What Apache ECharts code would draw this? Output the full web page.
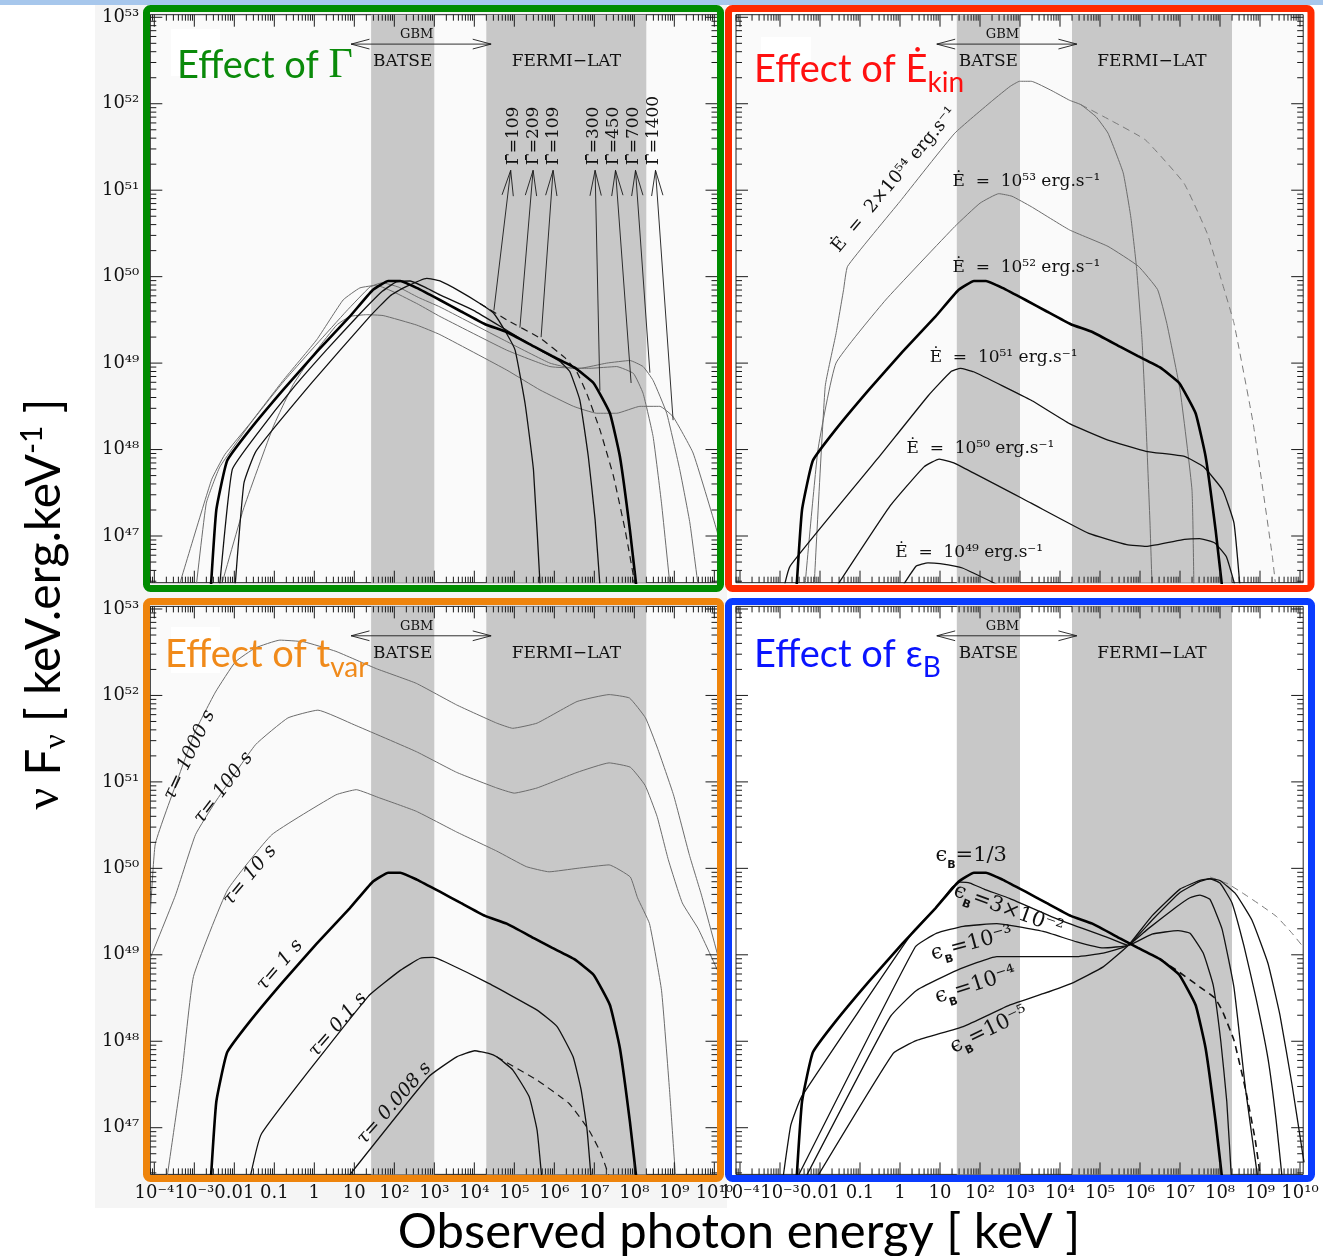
<!DOCTYPE html>
<html><head><meta charset="utf-8">
<script src="https://cdn.jsdelivr.net/npm/echarts@6/dist/echarts.min.js"></script>
<style>html,body{margin:0;padding:0;background:#fff;overflow:hidden}#c{width:1323px;height:1256px}</style>
</head><body><div id="c"></div>
<script>
// ---------- axis ranges (log10 units) ----------
const XMIN = -4.1, XMAX = 10.08;     // log10(E / keV)
const YMIN = 46.46, YMAX = 53.03;    // log10(nu F_nu)
const X_TICK_LABELS = {'-4':'10⁻⁴','-3':'10⁻³','-2':'0.01','-1':'0.1','0':'1','1':'10','2':'10²','3':'10³','4':'10⁴','5':'10⁵','6':'10⁶','7':'10⁷','8':'10⁸','9':'10⁹','10':'10¹⁰'};
const Y_TICK_LABELS = {'47':'10⁴⁷','48':'10⁴⁸','49':'10⁴⁹','50':'10⁵⁰','51':'10⁵¹','52':'10⁵²','53':'10⁵³'};
const BANDS = [[1.42, 3.0], [4.3, 8.3]];   // BATSE, FERMI-LAT
const GBM_RANGE = [0.92, 4.42];

// ---------- curves: [log10 E(keV), log10 nuFnu] ----------
const REF = [[-2.6,46.3],[-2.45,47.3],[-2.18,47.87],[-1.61,48.23],[-0.78,48.69],[0.06,49.13],[0.89,49.54],[1.45,49.84],[1.85,49.95],[2.15,49.95],[2.56,49.87],[3.14,49.73],[3.66,49.6],[4.27,49.45],[4.81,49.36],[5.5,49.19],[5.95,49.08],[6.5,48.95],[6.98,48.77],[7.39,48.42],[7.64,47.92],[7.89,47.07],[8.08,46.3]];
// Effect of Gamma
const G109 = [[-2.0,46.3],[-1.76,47.61],[-1.46,47.98],[-0.05,48.78],[1.39,49.54],[1.9,49.78],[2.23,49.87],[2.81,49.98],[3.14,49.95],[3.64,49.83],[4.14,49.69],[4.48,49.58],[4.81,49.34],[5.02,49.15],[5.27,48.53],[5.48,47.76],[5.66,46.3]];
const G109_DASH = [[4.14,49.69],[4.81,49.5],[5.64,49.29],[6.27,49.06],[6.56,48.9],[6.81,48.65],[7.14,48.23],[7.48,47.69],[7.77,47.07],[7.98,46.53],[8.03,46.3]];
const G209 = [[-2.39,46.3],[-2.05,47.77],[-1.4,48.2],[-0.55,48.7],[0.3,49.15],[1.1,49.55],[1.7,49.83],[2.05,49.94],[2.4,49.95],[2.8,49.87],[3.14,49.79],[3.98,49.61],[4.81,49.38],[5.64,49.15],[6.14,49.02],[6.39,48.9],[6.64,48.57],[6.85,47.92],[7.02,47.19],[7.16,46.3]];
const G450 = [[-2.98,46.3],[-2.7,47.38],[-2.36,47.8],[-1.6,48.3],[-0.78,48.78],[0.06,49.22],[0.8,49.6],[1.39,49.88],[1.7,49.93],[2.1,49.88],[2.6,49.76],[3.14,49.65],[4.81,49.25],[5.89,49.0],[6.48,48.94],[6.89,48.94],[7.56,48.96],[7.98,48.88],[8.22,48.65],[8.47,48.15],[8.68,47.38],[8.92,46.3]];
const G700 = [[-3.46,46.3],[-2.57,47.65],[-2.24,47.94],[-1.61,48.3],[-0.78,48.8],[0.06,49.27],[0.72,49.73],[1.14,49.87],[1.56,49.9],[2.0,49.82],[2.6,49.68],[3.14,49.54],[4.81,49.15],[5.89,48.96],[6.64,48.94],[7.31,49.0],[7.89,49.03],[8.22,48.96],[8.47,48.8],[8.81,48.42],[9.14,47.76],[9.39,47.15],[9.63,46.3]];
const G1400 = [[-2.4,46.3],[-1.78,47.3],[-1.03,48.26],[-0.53,48.75],[0.06,49.15],[0.56,49.44],[0.89,49.54],[1.31,49.56],[1.72,49.55],[2.56,49.44],[3.14,49.33],[4.81,48.92],[5.64,48.69],[6.48,48.5],[7.06,48.42],[7.56,48.42],[8.14,48.5],[8.64,48.5],[8.97,48.38],[9.47,47.96],[10.06,47.07],[10.2,46.8]];
// Effect of E_kin
const E2E54 = [[-2.16,46.3],[-1.87,48.73],[-1.6,49.34],[-1.41,49.85],[-1.31,50.12],[0.0,50.87],[1.37,51.66],[2.32,52.04],[2.75,52.2],[2.99,52.26],[3.28,52.26],[3.8,52.15],[4.24,52.04],[4.52,51.99],[4.9,51.85],[5.2,51.66],[5.58,51.2],[5.77,50.69],[5.91,50.12],[6.05,49.27],[6.15,48.3],[6.25,47.15],[6.31,46.3]];
const E2E54_DASH = [[4.52,51.99],[5.3,51.8],[6.14,51.58],[7.1,51.08],[7.68,50.5],[8.06,49.92],[8.35,49.46],[8.83,48.3],[9.31,46.76],[9.42,46.3]];
const E1E53 = [[-2.4,46.3],[-2.05,48.0],[-1.6,49.0],[-0.36,49.73],[1.37,50.58],[2.0,50.85],[2.47,50.96],[2.8,50.93],[3.28,50.81],[4.24,50.54],[5.2,50.35],[5.96,50.12],[6.44,49.85],[6.67,49.46],[7.0,48.69],[7.3,47.53],[7.35,46.3]];
const E1E51 = [[-2.95,46.3],[-2.75,46.65],[-0.55,47.9],[0.7,48.62],[1.27,48.9],[1.51,48.94],[1.84,48.9],[3.28,48.57],[4.24,48.3],[5.2,48.11],[6.15,47.98],[7.11,47.92],[7.59,47.8],[8.07,47.53],[8.35,47.15],[8.52,46.3]];
const E1E50 = [[-1.75,46.3],[-0.26,47.34],[0.6,47.8],[0.98,47.89],[1.37,47.84],[3.28,47.38],[4.72,47.03],[5.67,46.9],[6.15,46.88],[7.11,46.96],[7.49,46.97],[7.87,46.92],[8.16,46.76],[8.45,46.3]];
const E1E49 = [[-0.1,46.3],[0.4,46.65],[0.7,46.69],[1.0,46.68],[1.56,46.63],[2.6,46.4]];
// Effect of t_var
const T1000 = [[-4.2,48.6],[-3.98,50.27],[-3.47,50.96],[-2.98,51.58],[-2.47,52.04],[-1.97,52.39],[-1.47,52.55],[-0.86,52.64],[-0.26,52.62],[0.54,52.51],[1.55,52.31],[2.55,52.14],[3.56,51.89],[4.56,51.68],[4.96,51.62],[5.57,51.68],[6.57,51.93],[7.37,52.01],[7.88,51.97],[8.28,51.74],[8.58,51.39],[8.98,50.85],[9.38,50.15],[9.68,49.69],[10.2,48.8]];
const T100 = [[-4.2,48.85],[-3.47,49.69],[-2.97,50.39],[-2.47,50.77],[-1.47,51.43],[-0.66,51.74],[0.09,51.83],[1.0,51.66],[2.55,51.35],[3.56,51.11],[4.56,50.93],[5.0,50.87],[5.57,50.93],[6.57,51.11],[7.37,51.22],[7.9,51.17],[8.27,50.96],[8.57,50.6],[8.85,50.1],[9.2,49.6],[9.6,49.3],[10.2,48.7]];
const T10 = [[-3.72,46.3],[-3.32,47.59],[-3.02,48.75],[-2.17,49.75],[-1.06,50.39],[0.54,50.85],[1.05,50.91],[1.6,50.82],[2.55,50.66],[3.56,50.42],[4.56,50.2],[5.3,50.02],[5.87,49.96],[6.57,50.0],[7.37,50.04],[7.9,49.9],[8.08,49.66],[8.38,49.36],[8.68,48.59],[8.88,47.44],[9.05,46.3]];
const T01 = [[-1.66,46.3],[-1.32,46.93],[1.35,48.52],[2.15,48.82],[2.65,48.96],[2.96,48.97],[3.26,48.92],[4.36,48.67],[5.57,48.36],[6.07,48.17],[6.47,47.82],[6.67,47.44],[6.82,46.97],[6.94,46.3]];
const T0008 = [[0.62,46.3],[2.86,47.59],[3.56,47.82],[4.01,47.89],[4.36,47.86],[4.56,47.82],[4.96,47.67],[5.37,47.36],[5.57,46.97],[5.71,46.3]];
const T0008_DASH = [[4.56,47.82],[5.57,47.55],[6.37,47.28],[6.87,46.97],[7.17,46.7],[7.47,46.3]];
// Effect of eps_B
const EB3E2 = [[-2.96,46.3],[-2.73,47.03],[-2.46,47.36],[0.33,49.27],[0.89,49.54],[1.3,49.78],[1.5,49.84],[1.75,49.83],[2.1,49.76],[2.75,49.65],[4.0,49.4],[5.25,49.19],[5.71,49.11],[6.3,49.24],[6.95,49.28],[7.25,49.25],[7.58,49.02],[7.83,48.65],[8.02,48.0],[8.17,47.3],[8.3,46.3]];
const EB1E3 = [[-2.7,46.3],[0.38,49.09],[0.92,49.25],[1.58,49.33],[2.42,49.36],[2.75,49.34],[3.58,49.27],[4.42,49.15],[5.08,49.08],[5.71,49.11],[6.2,49.3],[6.9,49.55],[7.25,49.66],[7.5,49.69],[7.75,49.64],[8.05,49.3],[8.35,48.62],[8.64,47.44],[8.98,46.3]];
const EB1E4 = [[-2.5,46.3],[-0.25,48.28],[0.42,48.59],[1.42,48.82],[2.42,48.98],[3.25,48.98],[4.42,48.98],[5.08,49.02],[5.71,49.11],[6.3,49.4],[7.0,49.72],[7.5,49.85],[7.75,49.88],[8.0,49.83],[8.3,49.6],[8.6,49.1],[8.9,48.5],[9.2,47.8],[9.4,47.1],[9.58,46.3]];
const EB1E5 = [[-2.24,46.3],[-0.17,47.86],[0.42,48.01],[1.58,48.17],[2.75,48.42],[3.58,48.55],[4.29,48.67],[5.08,48.86],[5.71,49.11],[6.3,49.45],[7.0,49.76],[7.5,49.86],[7.75,49.88],[8.0,49.86],[8.4,49.7],[8.8,49.4],[9.2,48.9],[9.5,48.3],[9.8,47.5],[10.1,46.6]];
const EB1E5_DASH = [[7.75,49.9],[8.2,49.82],[8.58,49.71],[9.0,49.58],[9.42,49.44],[9.8,49.25],[10.1,49.08]];
const REF_DASH = [[6.5,48.95],[6.92,48.82],[7.49,48.63],[7.87,48.5],[8.06,48.35],[8.35,48.01],[8.64,47.44],[8.88,46.86],[9.05,46.3]];

// ---------- annotation text ----------
const GAMMA_VALUES = ['109','209','109','300','450','700','1400'];
const EDOT_TEXT = ['2×10⁵⁴','10⁵³','10⁵²','10⁵¹','10⁵⁰','10⁴⁹'];
const TAU_TEXT = ['1000','100','10','1','0.1','0.008'];
const EPS_TEXT = ['1/3','3×10⁻²','10⁻³','10⁻⁴','10⁻⁵'];

// ---------- layout / styles ----------
const SERIF = '"DejaVu Serif", serif';
const GRIDS = [
  {left:150.3, top:14.7, width:567.2, height:568, bg:'#fafafa', xlab:false},
  {left:736,   top:14.7, width:567.2, height:568, bg:'#fafafa', xlab:false},
  {left:150.3, top:606.4, width:567.2, height:568, bg:'#fafafa', xlab:true},
  {left:736,   top:606.4, width:567.2, height:568, bg:'#ffffff', xlab:true}
];
const STY = {
  thick:{color:'#000', width:2.6, type:'solid'},
  thin:{color:'#111', width:1.3, type:'solid'},
  gray:{color:'#6c6c6c', width:1, type:'solid'},
  dash:{color:'#1a1a1a', width:1.2, type:[7,5]},
  dashB:{color:'#111', width:1.6, type:[7,5]},
  dashGray:{color:'#7a7a7a', width:1, type:[7,5]}
};
const commonLabels = [
  {t:'GBM', at:[2.56,52.80], size:13},
  {t:'BATSE', at:[2.21,52.49], size:17},
  {t:'FERMI−LAT', at:[6.3,52.49], size:17}
];
const gbmArrow = {from:[GBM_RANGE[0],52.69], to:[GBM_RANGE[1],52.69], both:true, head:19, ang:0.26};
const gammaAt = [4.97,5.47,5.97,6.97,7.47,7.98,8.49];
const PANELS = [
  { curves:[[G1400,'gray'],[G700,'gray'],[G450,'gray'],[G109_DASH,'dash'],[G109,'thin'],[G209,'thin'],[REF,'thick']],
    labels: commonLabels.concat(GAMMA_VALUES.map((g,i)=>({t:'Γ\u0304=' + g, at:[gammaAt[i],51.29], rot:90, size:17, align:'left'}))),
    arrows: [gbmArrow,
      {from:[4.49,49.61], to:[4.91,51.23]}, {from:[5.14,49.41], to:[5.47,51.23]}, {from:[5.67,49.30], to:[5.97,51.23]},
      {from:[7.14,48.68], to:[7.02,51.23]}, {from:[7.92,48.77], to:[7.53,51.23]}, {from:[8.39,48.89], to:[8.03,51.23]},
      {from:[8.97,48.34], to:[8.53,51.23]}] },
  { curves:[[E2E54_DASH,'dashGray'],[E2E54,'gray'],[E1E53,'gray'],[E1E51,'thin'],[E1E50,'thin'],[E1E49,'thin'],[REF,'thick']],
    labels: commonLabels.concat([
      {t:'Ė  =  ' + EDOT_TEXT[0] + ' erg.s⁻¹', at:[-0.14,51.12], rot:50, size:18},
      {t:'Ė  =  ' + EDOT_TEXT[1] + ' erg.s⁻¹', at:[3.16,51.10], size:17},
      {t:'Ė  =  ' + EDOT_TEXT[2] + ' erg.s⁻¹', at:[3.16,50.10], size:17},
      {t:'Ė  =  ' + EDOT_TEXT[3] + ' erg.s⁻¹', at:[2.59,49.06], size:17},
      {t:'Ė  =  ' + EDOT_TEXT[4] + ' erg.s⁻¹', at:[2.01,48.01], size:17},
      {t:'Ė  =  ' + EDOT_TEXT[5] + ' erg.s⁻¹', at:[1.73,46.81], size:17}]),
    arrows:[gbmArrow] },
  { curves:[[T1000,'gray'],[T100,'gray'],[T10,'gray'],[T0008_DASH,'dash'],[T01,'thin'],[T0008,'thin'],[REF,'thick']],
    labels: commonLabels.concat([
      {t:'τ= ' + TAU_TEXT[0] + ' s', at:[-3.12,51.31], rot:64.7, size:19, italic:true},
      {t:'τ= ' + TAU_TEXT[1] + ' s', at:[-2.27,50.93], rot:52.6, size:19, italic:true},
      {t:'τ= ' + TAU_TEXT[2] + ' s', at:[-1.61,49.92], rot:50, size:19, italic:true},
      {t:'τ= ' + TAU_TEXT[3] + ' s', at:[-0.86,48.88], rot:49.6, size:19, italic:true},
      {t:'τ= ' + TAU_TEXT[4] + ' s', at:[0.59,48.19], rot:49, size:19, italic:true},
      {t:'τ= ' + TAU_TEXT[5] + ' s', at:[2.0,47.28], rot:48.7, size:19, italic:true}]),
    arrows:[gbmArrow] },
  { curves:[[EB1E5_DASH,'dashGray'],[REF_DASH,'dashB'],[EB3E2,'thin'],[EB1E3,'thin'],[EB1E4,'thin'],[EB1E5,'thin'],[REF,'thick']],
    labels: commonLabels.concat([
      {eps:EPS_TEXT[0], at:[1.78,50.15], rot:0},
      {eps:EPS_TEXT[1], at:[2.71,49.52], rot:-20},
      {eps:EPS_TEXT[2], at:[1.8,49.13], rot:15},
      {eps:EPS_TEXT[3], at:[1.89,48.65], rot:17.8},
      {eps:EPS_TEXT[4], at:[2.23,48.13], rot:25.8}]),
    arrows:[gbmArrow] }
];

const P10 = v => Math.pow(10, v);
const toPts = a => a.map(p => [P10(p[0]), P10(p[1])]);

function overlayData(panel, withXLabels) {
  const items = [];
  for (let n = Math.floor(XMIN); n <= Math.ceil(XMAX); n++) for (let k = 1; k <= 9; k++) {
    const e = n + Math.log10(k);
    if (e < XMIN || e > XMAX) continue;
    items.push([P10(e), P10(YMIN), P10(e), P10(YMIN), k === 1 ? 1 : 0, 0]);
  }
  for (let n = Math.floor(YMIN); n <= Math.ceil(YMAX); n++) for (let k = 1; k <= 9; k++) {
    const e = n + Math.log10(k);
    if (e < YMIN || e > YMAX) continue;
    items.push([P10(XMIN), P10(e), P10(XMIN), P10(e), k === 1 ? 3 : 2, 0]);
  }
  if (withXLabels) {
    Object.keys(X_TICK_LABELS).forEach(k => {
      const n = Number(k);
      items.push([P10(n), P10(YMIN), P10(n), P10(YMIN), 7, n]);
    });
  }
  panel.arrows.forEach((a, i) => items.push([P10(a.from[0]), P10(a.from[1]), P10(a.to[0]), P10(a.to[1]), 4, i]));
  panel.labels.forEach((l, i) => items.push([P10(l.at[0]), P10(l.at[1]), P10(l.at[0]), P10(l.at[1]), 6, i]));
  return items;
}

function chevron(tip, from, len, ang) {
  const a = Math.atan2(from[1] - tip[1], from[0] - tip[0]);
  return [[tip[0] + len * Math.cos(a + ang), tip[1] + len * Math.sin(a + ang)], tip,
          [tip[0] + len * Math.cos(a - ang), tip[1] + len * Math.sin(a - ang)]];
}

function overlayRender(panel) {
  const yLo = P10(YMIN), yHi = P10(YMAX), xLo = P10(XMIN), xHi = P10(XMAX);
  const ink = '#1a1a1a';
  const ln = (x1, y1, x2, y2, w) => ({type:'line', shape:{x1, y1, x2, y2}, style:{stroke:ink, lineWidth:w || 1}});
  return function (params, api) {
    const kind = api.value(4);
    if (kind === 0 || kind === 1) {
      const x = api.value(0), b = api.coord([x, yLo]), t = api.coord([x, yHi]), L = kind ? 12 : 6;
      return {type:'group', children:[ln(b[0], b[1], b[0], b[1] - L), ln(t[0], t[1], t[0], t[1] + L)]};
    }
    if (kind === 2 || kind === 3) {
      const y = api.value(1), l = api.coord([xLo, y]), r = api.coord([xHi, y]), L = kind === 3 ? 12 : 6;
      return {type:'group', children:[ln(l[0], l[1], l[0] + L, l[1]), ln(r[0], r[1], r[0] - L, r[1])]};
    }
    if (kind === 4) {
      const a = panel.arrows[api.value(5)];
      const p1 = api.coord([api.value(0), api.value(1)]), p2 = api.coord([api.value(2), api.value(3)]);
      const len = a.head || 26, ang = a.ang || 0.22;
      const kids = [{type:'polyline', shape:{points:[p1, p2]}, style:{stroke:ink, lineWidth:0.9, fill:null}},
                    {type:'polyline', shape:{points:chevron(p2, p1, len, ang)}, style:{stroke:ink, lineWidth:0.9, fill:null}}];
      if (a.both) kids.push({type:'polyline', shape:{points:chevron(p1, p2, len, ang)}, style:{stroke:ink, lineWidth:0.9, fill:null}});
      return {type:'group', children:kids};
    }
    if (kind === 7) {
      const p = api.coord([api.value(0), api.value(1)]);
      return {type:'text', x:p[0], y:p[1] + 19, style:{text:X_TICK_LABELS[String(api.value(5))], font:'18px ' + SERIF, fill:'#111', align:'center', verticalAlign:'middle'}};
    }
    if (kind === 6) {
      const lab = panel.labels[api.value(5)];
      const p = api.coord([api.value(0), api.value(1)]);
      const style = {fill:'#111', align:lab.align || 'center', verticalAlign:'middle'};
      if (lab.eps) {
        style.text = '{e|ϵ}{b|B}{n|=' + lab.eps + '}';
        style.rich = {
          e:{fontFamily:SERIF, fontSize:21, lineHeight:30, fill:'#111'},
          b:{fontFamily:'"DejaVu Sans", sans-serif', fontSize:11, fontWeight:'bold', verticalAlign:'bottom', fill:'#111'},
          n:{fontFamily:SERIF, fontSize:21, lineHeight:30, fill:'#111'}
        };
      } else {
        style.text = lab.t;
        style.font = (lab.italic ? 'italic ' : '') + (lab.size || 17) + 'px ' + SERIF;
      }
      return {type:'text', x:p[0], y:p[1], rotation:(lab.rot || 0) * Math.PI / 180, style};
    }
    return null;
  };
}

const option = {
  animation:false,
  backgroundColor:'#ffffff',
  grid: GRIDS.map(g => ({left:g.left, top:g.top, width:g.width, height:g.height, show:true, backgroundColor:g.bg, borderColor:'#222', borderWidth:1})),
  xAxis: GRIDS.map((g, i) => ({
    type:'log', logBase:10, gridIndex:i, min:P10(XMIN), max:P10(XMAX),
    axisLine:{show:false}, axisTick:{show:false}, splitLine:{show:false}, minorTick:{show:false}, axisLabel:{show:false}
  })),
  yAxis: GRIDS.map((g, i) => ({
    type:'log', logBase:10, gridIndex:i, min:P10(YMIN), max:P10(YMAX), splitNumber:6,
    axisLine:{show:false}, axisTick:{show:false}, splitLine:{show:false}, minorTick:{show:false},
    axisLabel:{show:i % 2 === 0, margin:11, color:'#111', fontFamily:SERIF, fontSize:18,
      formatter: v => { const e = Math.log10(v), r = Math.round(e); return Math.abs(e - r) < 0.01 ? (Y_TICK_LABELS[String(r)] || '') : ''; }}
  })),
  series: [],
  graphic: {elements: [
    {type:'rect', z:-100, shape:{x:0, y:0, width:1323, height:5}, style:{fill:'#a7c7ec'}},
    {type:'rect', z:-100, shape:{x:95, y:5, width:632, height:1203}, style:{fill:'#f5f5f5'}},
    {type:'rect', z:100, shape:{x:146.5, y:8.5, width:574, height:580, r:4}, style:{fill:'none', stroke:'#008c00', lineWidth:7}},
    {type:'rect', z:100, shape:{x:728.5, y:8.5, width:582.5, height:580, r:4}, style:{fill:'none', stroke:'#ff2a00', lineWidth:7}},
    {type:'rect', z:100, shape:{x:146.5, y:601.5, width:574, height:577, r:4}, style:{fill:'none', stroke:'#ee840c', lineWidth:7}},
    {type:'rect', z:100, shape:{x:728.5, y:601.5, width:583, height:577, r:4}, style:{fill:'none', stroke:'#0a3cff', lineWidth:7}},
    {type:'rect', z:90, shape:{x:171, y:29, width:49, height:47}, style:{fill:'#ffffff'}},
    {type:'rect', z:90, shape:{x:761, y:37, width:50, height:45}, style:{fill:'#ffffff'}},
    {type:'rect', z:90, shape:{x:171, y:627, width:49, height:46}, style:{fill:'#ffffff'}},
    {type:'text', z:110, x:177, y:66, style:{text:'{a|Effect of }{g|Γ}', align:'left', verticalAlign:'middle',
      rich:{a:{fontFamily:'Lato', fontSize:38, lineHeight:46, fill:'#0a8a0a'}, g:{fontFamily:'"Liberation Serif", serif', fontSize:42, lineHeight:46, fill:'#0a8a0a'}}}},
    {type:'text', z:110, x:754, y:70, style:{text:'{a|Effect of Ė}{s|kin}', align:'left', verticalAlign:'middle',
      rich:{a:{fontFamily:'Lato', fontSize:38, lineHeight:54, fill:'#ff1010'}, s:{fontFamily:'Lato', fontSize:28, verticalAlign:'bottom', fill:'#ff1010'}}}},
    {type:'text', z:110, x:165, y:655, style:{text:'{a|Effect of t}{s|var}', align:'left', verticalAlign:'middle',
      rich:{a:{fontFamily:'Lato', fontSize:38, lineHeight:54, fill:'#f08a1a'}, s:{fontFamily:'Lato', fontSize:28, verticalAlign:'bottom', fill:'#f08a1a'}}}},
    {type:'text', z:110, x:754, y:655, style:{text:'{a|Effect of ε}{s|B}', align:'left', verticalAlign:'middle',
      rich:{a:{fontFamily:'Lato, "Noto Sans", sans-serif', fontSize:38, lineHeight:54, fill:'#0a14ff'}, s:{fontFamily:'Lato', fontSize:28, verticalAlign:'bottom', fill:'#0a14ff'}}}},
    {type:'text', z:110, x:45, y:604, rotation:Math.PI / 2, style:{text:'{n|ν }{m|F}{s|ν}{m| [ keV.erg.keV}{p|-1}{m| ]}', align:'center', verticalAlign:'middle',
      rich:{n:{fontFamily:'"Liberation Serif", serif', fontSize:48, lineHeight:56, fill:'#000'}, m:{fontFamily:'Lato', fontSize:48, lineHeight:56, fill:'#000'},
            s:{fontFamily:'"Liberation Serif", serif', fontSize:32, verticalAlign:'bottom', fill:'#000'}, p:{fontFamily:'Lato', fontSize:30, verticalAlign:'top', fill:'#000'}}}},
    {type:'text', z:110, x:739, y:1232, style:{text:'Observed photon energy [ keV ]', font:'49px Lato', fill:'#000', align:'center', verticalAlign:'middle'}}
  ]}
};

PANELS.forEach((panel, i) => {
  option.series.push({
    type:'custom', name:'bands' + i, xAxisIndex:i, yAxisIndex:i, z:1, silent:true,
    data: BANDS.map(b => [P10(b[0]), P10(b[1]), P10(YMIN), P10(YMAX)]),
    encode:{x:[0,1], y:[2,3]},
    renderItem:(params, api) => {
      const a = api.coord([api.value(0), api.value(3)]), b = api.coord([api.value(1), api.value(2)]);
      return {type:'rect', shape:{x:a[0], y:a[1], width:b[0] - a[0], height:b[1] - a[1]}, style:{fill:'#c8c8c8'}};
    }
  });
  panel.curves.forEach(([arr, s], j) => {
    const st = STY[s];
    option.series.push({
      type:'line', name:'p' + i + 'c' + j, xAxisIndex:i, yAxisIndex:i, z:3, silent:true,
      data: toPts(arr), showSymbol:false, symbol:'none', smooth:0.12, clip:true,
      lineStyle:{color:st.color, width:st.width, type:st.type}
    });
  });
  option.series.push({
    type:'custom', name:'overlay' + i, xAxisIndex:i, yAxisIndex:i, z:5, silent:true,
    data: overlayData(panel, GRIDS[i].xlab), encode:{x:[0,2], y:[1,3]},
    renderItem: overlayRender(panel)
  });
});

const chart = echarts.init(document.getElementById('c'), null, {renderer:'canvas', width:1323, height:1256});
chart.setOption(option);
</script>
</body></html>
